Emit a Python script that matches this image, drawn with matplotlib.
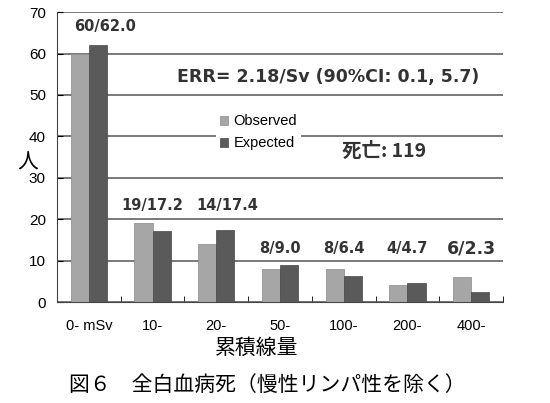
import matplotlib
matplotlib.use("Agg")
import matplotlib.pyplot as plt
import numpy as np

plt.rcParams['font.family'] = ['Liberation Sans', 'Noto Sans CJK JP', 'DejaVu Sans']

# data
categories = ['0- mSv', '10-', '20-', '50-', '100-', '200-', '400-']
observed = [60, 19, 14, 8, 8, 4, 6]
expected = [62.0, 17.2, 17.4, 9.0, 6.4, 4.7, 2.3]
labels = ['60/62.0', '19/17.2', '14/17.4', '8/9.0', '8/6.4', '4/4.7', '6/2.3']
label_y = [66.5, 23.3, 23.3, 13.0, 13.0, 13.0, 13.0]
label_dx = [0.25, 0.0, 0.17, 0.0, 0.0, 0.0, 0.0]

fig = plt.figure(figsize=(5.5, 4.03), dpi=100)
ax = fig.add_axes([0.1036, 0.2506, 0.811, 0.7194])

ind = np.arange(len(categories))
width = 0.285
p_obs = ax.bar(ind - width / 2, observed, width, color='#a6a6a6', edgecolor='#8a8a8a', lw=0.5, zorder=3)
p_exp = ax.bar(ind + width / 2, expected, width, color='#5a5a5a', edgecolor='#454545', lw=0.5, zorder=3)

ax.set_xlim(-0.5, 6.5)
ax.set_ylim(0, 70)
ax.set_yticks(np.arange(0, 71, 10))
ax.tick_params(axis='y', direction='in', length=4, labelsize=11, pad=8)
ax.set_xticks(ind)
ax.set_xticklabels(categories)
ax.tick_params(axis='x', length=0, labelsize=10.5, pad=12)
ax.set_xticks(np.arange(0.5, 6.6, 1), minor=True)
ax.tick_params(axis='x', which='minor', direction='in', length=4)

for s in ['top', 'right']:
    ax.spines[s].set_visible(False)
ax.spines['left'].set_color('#444444')
ax.spines['bottom'].set_color('#444444')

ax.yaxis.grid(True, color='#555555', lw=1.1, zorder=0)

for i, t in enumerate(labels):
    fs = 12.5 if i == 6 else 10.5
    ax.text(ind[i] + label_dx[i], label_y[i], t, ha='center', va='center', fontsize=fs,
            fontweight='bold', color='#333333', family='DejaVu Sans')

ax.text(1.38, 54.3, 'ERR= 2.18/Sv (90%CI: 0.1, 5.7)', fontsize=12.5, fontweight='bold',
        color='#333333', va='center', family='DejaVu Sans')
ax.text(3.97, 36.5, '死亡: 119', fontsize=14, fontweight='bold', color='#333333', va='center',
        family=['Noto Sans CJK JP', 'DejaVu Sans'])

leg = ax.legend((p_obs[0], p_exp[0]), ('Observed', 'Expected'), loc='center left',
                bbox_to_anchor=(0.34, 0.585), frameon=True, edgecolor='none', framealpha=1,
                fontsize=10.5, handlelength=0.55, handleheight=0.55, handletextpad=0.35,
                borderpad=0.3, labelspacing=0.55)
leg.set_zorder(4)

ax.set_ylabel('人', rotation=0, fontsize=15, va='center', family=['Noto Sans CJK JP'])
ax.yaxis.set_label_coords(-0.065, 0.48)

fig.text(0.467, 0.136, '累積線量', ha='center', va='center', fontsize=15, family=['Noto Sans CJK JP'])
fig.text(0.486, 0.045, '図６　全白血病死（慢性リンパ性を除く）', ha='center', va='center',
         fontsize=15, family=['Noto Sans CJK JP'])

fig.savefig('out.png', dpi=100)
